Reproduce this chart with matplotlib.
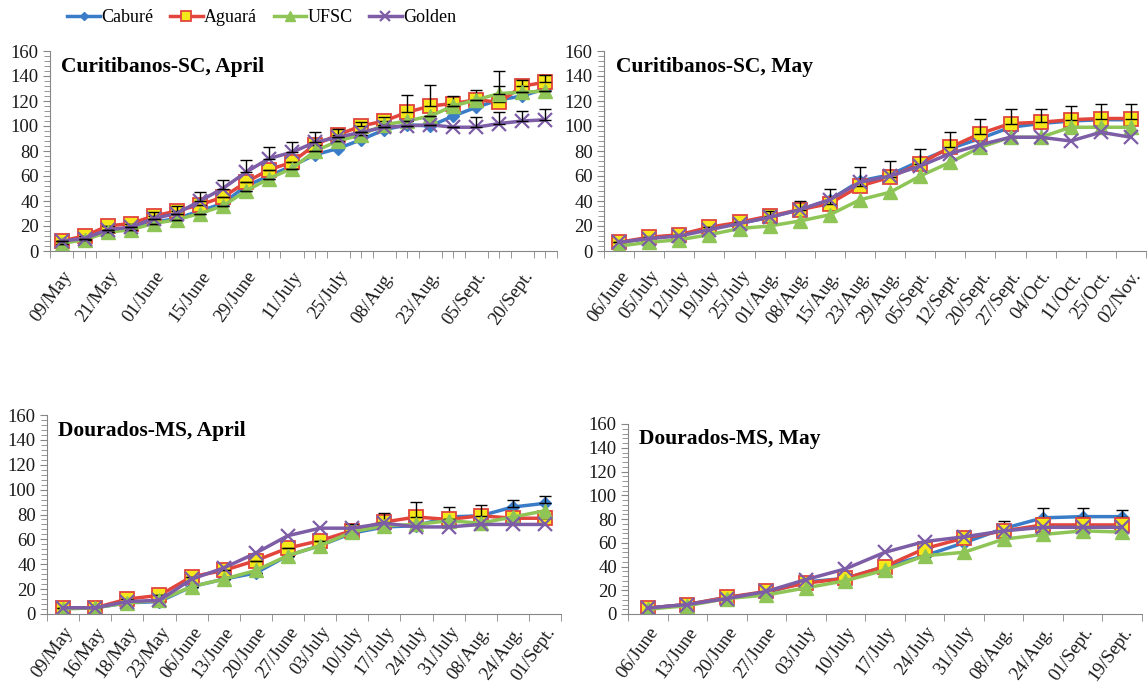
import matplotlib
matplotlib.use("Agg")
import matplotlib.pyplot as plt
import matplotlib.transforms as mtrans
from matplotlib.ticker import MultipleLocator, FixedLocator, NullFormatter

plt.rcParams['font.family'] = ['Liberation Serif', 'DejaVu Serif']

series_names = ["Caburé", "Aguará", "UFSC", "Golden"]

# Curitibanos-SC, April (22 samples, every second one labelled)
cur_apr_labels = ["09/May", "21/May", "01/June", "15/June", "29/June", "11/July",
                  "25/July", "08/Aug.", "23/Aug.", "05/Sept.", "20/Sept."]
cur_apr_cabure = [7, 10, 16, 18, 23, 26, 32, 38, 52, 60, 68, 77, 82, 89, 97, 101, 100, 108, 115, 121, 124, 130]
cur_apr_aguara = [8, 12, 20, 22, 28, 32, 37, 43, 55, 65, 71, 85, 93, 100, 104, 111, 116, 118, 121, 119, 132, 135]
cur_apr_ufsc = [6, 9, 15, 17, 22, 25, 30, 36, 48, 58, 66, 80, 88, 93, 101, 104, 108, 116, 121, 126, 127, 128]
cur_apr_golden = [8, 10, 17, 19, 26, 30, 40, 50, 63, 74, 79, 87, 91, 95, 99, 100, 101, 99, 99, 102, 104, 105]
cur_apr_err_aguara = [0, 0, 0, 0, 3, 4, 0, 0, 0, 0, 0, 0, 5, 3, 3, 14, 17, 6, 8, 13, 5, 6]
cur_apr_err_ufsc = [0, 0, 0, 0, 0, 0, 0, 0, 0, 0, 0, 0, 0, 0, 0, 0, 0, 0, 0, 18, 0, 0]
cur_apr_err_golden = [0, 0, 0, 0, 0, 0, 7, 7, 10, 9, 8, 8, 0, 0, 0, 0, 0, 0, 8, 9, 8, 9]

# Curitibanos-SC, May
cur_may_labels = ["06/June", "05/July", "12/July", "19/July", "25/July", "01/Aug.", "08/Aug.",
                  "15/Aug.", "23/Aug.", "29/Aug.", "05/Sept.", "12/Sept.", "20/Sept.",
                  "27/Sept.", "04/Oct.", "11/Oct.", "25/Oct.", "02/Nov."]
cur_may_cabure = [7, 10, 13, 18, 22, 27, 33, 41, 56, 61, 72, 82, 90, 99, 102, 104, 105, 105]
cur_may_aguara = [7, 11, 13, 19, 23, 28, 33, 38, 52, 59, 70, 83, 94, 102, 103, 105, 106, 106]
cur_may_ufsc = [4, 7, 9, 13, 18, 20, 24, 29, 41, 47, 60, 71, 83, 91, 91, 99, 99, 99]
cur_may_golden = [7, 10, 12, 17, 22, 27, 33, 41, 55, 60, 68, 78, 85, 91, 91, 88, 95, 91]
cur_may_err_aguara = [0, 0, 0, 0, 0, 4, 7, 12, 15, 13, 12, 12, 12, 12, 11, 11, 12, 12]

# Dourados-MS, April
dou_apr_labels = ["09/May", "16/May", "18/May", "23/May", "06/June", "13/June", "20/June",
                  "27/June", "03/July", "10/July", "17/July", "24/July", "31/July",
                  "08/Aug.", "24/Aug.", "01/Sept."]
dou_apr_cabure = [5, 5, 9, 10, 22, 28, 33, 47, 55, 65, 70, 71, 78, 79, 86, 89]
dou_apr_aguara = [5, 5, 12, 15, 30, 35, 43, 53, 59, 67, 74, 78, 76, 79, 77, 77]
dou_apr_ufsc = [4, 5, 9, 11, 22, 28, 35, 47, 55, 66, 71, 72, 75, 73, 78, 83]
dou_apr_golden = [5, 5, 10, 11, 28, 37, 49, 63, 69, 69, 73, 70, 70, 72, 72, 72]
dou_apr_err_aguara = [0, 0, 0, 0, 0, 0, 0, 0, 0, 5, 7, 12, 0, 9, 0, 0]
dou_apr_err_cabure = [0, 0, 0, 0, 0, 0, 0, 0, 0, 0, 0, 0, 8, 0, 6, 6]

# Dourados-MS, May
dou_may_labels = ["06/June", "13/June", "20/June", "27/June", "03/July", "10/July", "17/July",
                  "24/July", "31/July", "08/Aug.", "24/Aug.", "01/Sept.", "19/Sept."]
dou_may_cabure = [5, 8, 14, 18, 27, 30, 40, 49, 60, 72, 81, 82, 82]
dou_may_aguara = [5, 8, 14, 19, 26, 30, 40, 55, 64, 70, 75, 75, 75]
dou_may_ufsc = [4, 7, 13, 16, 22, 28, 37, 49, 52, 63, 67, 70, 69]
dou_may_golden = [5, 8, 13, 19, 29, 38, 52, 61, 65, 70, 73, 73, 73]
dou_may_err_cabure = [0, 0, 0, 0, 0, 0, 0, 0, 0, 6, 8, 7, 6]

styles = {
    "Caburé": dict(color="#3a7cc8", marker="D", ms=6, mfc="#3a7cc8", mec="#3a7cc8"),
    "Aguará": dict(color="#e2453c", marker="s", ms=10, mfc="#f4e81a", mec="#e2453c", mew=1.3),
    "UFSC": dict(color="#8fc557", marker="^", ms=10, mfc="#8fc557", mec="#8fc557"),
    "Golden": dict(color="#7c5da6", marker="x", ms=10, mew=1.6),
}

W, H = 1147, 688
fig = plt.figure(figsize=(W / 100, H / 100), dpi=100)
shift = mtrans.ScaledTranslation(5 / 100, 0, fig.dpi_scale_trans)


def panel(box, title, labels, label_step, data, errs, pad=12):
    l, t, r, b = box
    ax = fig.add_axes([l / W, 1 - b / H, (r - l) / W, (b - t) / H])
    n = len(data["Caburé"])
    x = list(range(n))
    for name in series_names:
        ax.plot(x, data[name], lw=2.5, label=name, **styles[name])
        if name in errs:
            ax.errorbar(x, data[name], yerr=[[0] * n, errs[name]], fmt="none",
                        ecolor="black", elinewidth=1, capsize=4, capthick=1)
    ax.set_xlim(-0.5, n - 0.5)
    ax.set_ylim(0, 160)
    ax.yaxis.set_major_locator(MultipleLocator(20))
    ax.yaxis.set_minor_locator(MultipleLocator(4))
    ax.set_xticks(list(range(0, n, label_step)))
    ax.set_xticklabels(labels, rotation=54, ha="right", rotation_mode="anchor")
    for lab in ax.get_xticklabels():
        lab.set_transform(lab.get_transform() + shift)
    ax.xaxis.set_minor_locator(FixedLocator([i * 0.5 - 0.5 for i in range(2 * n + 1)]))
    ax.xaxis.set_minor_formatter(NullFormatter())
    ax.tick_params(axis="both", which="both", direction="out", color="#868686",
                   labelsize=13.5, labelcolor="#1a1a1a")
    ax.tick_params(axis="x", which="major", length=0, pad=pad)
    ax.tick_params(axis="x", which="minor", length=5)
    ax.tick_params(axis="y", which="major", length=5, pad=3)
    ax.tick_params(axis="y", which="minor", length=4)
    for s in ["top", "right"]:
        ax.spines[s].set_visible(False)
    for s in ["left", "bottom"]:
        ax.spines[s].set_color("#868686")
    ax.text(0.022, 0.92, title, transform=ax.transAxes, fontsize=15.5,
            fontweight="bold", va="center", ha="left")
    return ax


ax1 = panel((50, 51, 557, 251), "Curitibanos-SC, April", cur_apr_labels, 2,
            {"Caburé": cur_apr_cabure, "Aguará": cur_apr_aguara,
             "UFSC": cur_apr_ufsc, "Golden": cur_apr_golden},
            {"Aguará": cur_apr_err_aguara, "UFSC": cur_apr_err_ufsc, "Golden": cur_apr_err_golden})

panel((604, 51, 1146, 251), "Curitibanos-SC, May", cur_may_labels, 1,
      {"Caburé": cur_may_cabure, "Aguará": cur_may_aguara,
       "UFSC": cur_may_ufsc, "Golden": cur_may_golden},
      {"Aguará": cur_may_err_aguara})

panel((47, 415, 561, 614), "Dourados-MS, April", dou_apr_labels, 1,
      {"Caburé": dou_apr_cabure, "Aguará": dou_apr_aguara,
       "UFSC": dou_apr_ufsc, "Golden": dou_apr_golden},
      {"Aguará": dou_apr_err_aguara, "Caburé": dou_apr_err_cabure}, pad=7)

panel((628, 424, 1142, 614), "Dourados-MS, May", dou_may_labels, 1,
      {"Caburé": dou_may_cabure, "Aguará": dou_may_aguara,
       "UFSC": dou_may_ufsc, "Golden": dou_may_golden},
      {"Caburé": dou_may_err_cabure}, pad=7)

handles, names = ax1.get_legend_handles_labels()
fig.legend(handles, names, loc="center", bbox_to_anchor=(262 / W, 1 - 18 / H), ncol=4,
           frameon=False, fontsize=13, handlelength=1.8, handletextpad=0.1,
           columnspacing=0.9, markerscale=0.75)

fig.savefig("out.png", dpi=100)
